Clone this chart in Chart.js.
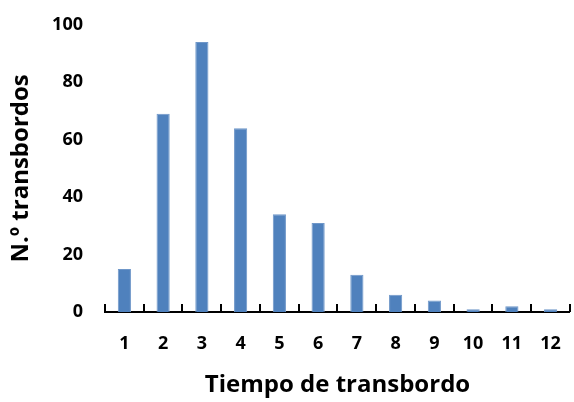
<!DOCTYPE html>
<html lang="es">
<head>
  <meta charset="UTF-8" />
  <title>Tiempo de transbordo</title>
  <script src="https://cdn.jsdelivr.net/npm/chart.js"></script>
  <style>
    html, body { margin: 0; padding: 0; background: #fff; }
    #chart { display: block; }
  </style>
</head>
<body>
  <canvas id="chart" width="574" height="402"></canvas>

  <script>
    const categories = ['1', '2', '3', '4', '5', '6', '7', '8', '9', '10', '11', '12'];
    const transbordos = [15, 69, 94, 64, 34, 31, 13, 6, 4, 1, 2, 1];
    const yTicks = [0, 20, 40, 60, 80, 100];

    const FONT = '"Open Sans", "Liberation Sans", sans-serif';

    // small tick marks between categories, pointing up from the axis
    const upTicks = {
      id: 'upTicks',
      afterDraw(chart) {
        const x = chart.scales.x, y = chart.scales.y;
        const ctx = chart.ctx;
        const base = y.getPixelForValue(0);
        ctx.save();
        ctx.strokeStyle = '#000';
        ctx.lineWidth = 2;
        for (let i = 0; i <= categories.length; i++) {
          const px = Math.round(x.getPixelForValue(i - 0.5));
          ctx.beginPath();
          ctx.moveTo(px, base);
          ctx.lineTo(px, base - 8);
          ctx.stroke();
        }
        ctx.restore();
      }
    };

    new Chart(document.getElementById('chart').getContext('2d'), {
      type: 'bar',
      data: {
        labels: categories,
        datasets: [{
          data: transbordos,
          backgroundColor: '#4f81bd',
          borderColor: '#6f97c9',
          borderWidth: 1,
          barPercentage: 0.34,
          categoryPercentage: 1
        }]
      },
      options: {
        responsive: false,
        animation: false,
        devicePixelRatio: 1,
        layout: { padding: { top: 16, right: 2, left: 4, bottom: 2 } },
        plugins: { legend: { display: false }, tooltip: { enabled: false } },
        scales: {
          x: {
            grid: { display: false },
            border: { display: true, color: '#000', width: 2 },
            ticks: { color: '#000', font: { family: FONT, size: 18, weight: 'bold' }, padding: 13, maxRotation: 0 },
            title: {
              display: true, text: 'Tiempo de transbordo', color: '#000',
              font: { family: FONT, size: 24, weight: 'bold' }, padding: { top: 6, bottom: 0 }
            },
            afterFit(scale) { scale.height = 88; }
          },
          y: {
            min: 0, max: 100,
            afterBuildTicks(scale) { scale.ticks = yTicks.map(v => ({ value: v })); },
            grid: { display: false },
            border: { display: false },
            ticks: { color: '#000', font: { family: FONT, size: 18, weight: 'bold' }, padding: 14 },
            title: {
              display: true, text: 'N.º transbordos', color: '#000',
              font: { family: FONT, size: 24, weight: 'bold' }, padding: { top: 3, bottom: 0 }
            },
            afterFit(scale) { scale.width = 101; }
          }
        }
      },
      plugins: [upTicks]
    });
  </script>
</body>
</html>
